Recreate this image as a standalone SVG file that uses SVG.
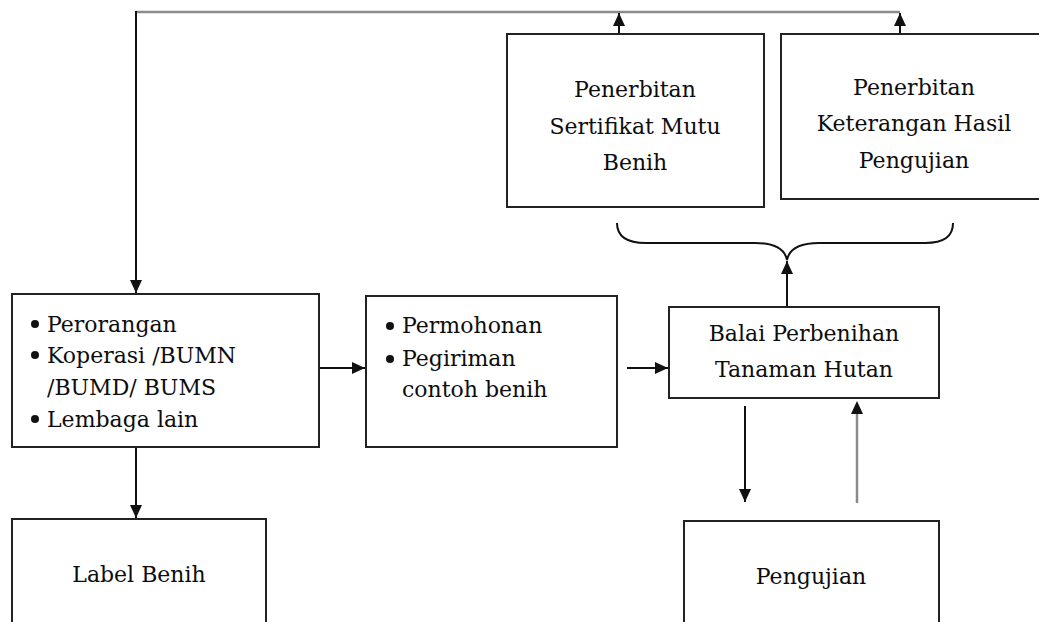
<svg xmlns="http://www.w3.org/2000/svg" width="1039" height="622" viewBox="0 0 1039 622">
  <style>
    .box { fill: #fff; stroke: #222; stroke-width: 2; }
    .lbl { font-family: "DejaVu Serif", "Liberation Serif", serif; font-size: 22px; fill: #0d0d0d; }
    .mid { text-anchor: middle; }
    .wire { fill: none; stroke: #111; stroke-width: 2; }
    .grey { fill: none; stroke: #8a8a8a; stroke-width: 2.5; }
    .dot { fill: #111; }
  </style>
  <defs>
    <marker id="arrow" markerUnits="userSpaceOnUse" markerWidth="14" markerHeight="14" viewBox="0 0 14 14" refX="13" refY="7" orient="auto">
      <path d="M0,1 L13,7 L0,13 Z" fill="#111"/>
    </marker>
  </defs>
  <rect width="1039" height="622" fill="#fff"/>

  <g id="connectors">
    <!-- feedback line over the top -->
    <path class="grey" d="M136,12 L900,12"/>
    <path class="wire" d="M136,11 L136,293" marker-end="url(#arrow)"/>
    <path class="wire" d="M619,34 L619,13" marker-end="url(#arrow)"/>
    <path class="wire" d="M900,34 L900,13" marker-end="url(#arrow)"/>
    <!-- applicant flows -->
    <path class="wire" d="M136,447 L136,518" marker-end="url(#arrow)"/>
    <path class="wire" d="M319,368 L365,368" marker-end="url(#arrow)"/>
    <path class="wire" d="M627,368 L668,368" marker-end="url(#arrow)"/>
    <!-- brace joining the two certificates -->
    <path class="wire" stroke-width="1.6" d="M617,223 C617,236 626,243 646,243 L755,243 C776,243 785,250 787,260 C789,250 798,243 819,243 L925,243 C945,243 953,236 953,223"/>
    <path class="wire" d="M787,307 L787,261" marker-end="url(#arrow)"/>
    <!-- testing loop -->
    <path class="wire" d="M745,406 L745,502" marker-end="url(#arrow)"/>
    <path class="grey" stroke-width="3" d="M857,503 L857,412"/>
    <path d="M851,414 L857,401 L863,414 Z" fill="#111"/>
  </g>

  <g id="node-sertifikat">
    <rect class="box" x="507" y="34" width="257" height="173"/>
    <text class="lbl mid" x="635" y="97">Penerbitan</text>
    <text class="lbl mid" x="635" y="134">Sertifikat Mutu</text>
    <text class="lbl mid" x="635" y="170">Benih</text>
  </g>

  <g id="node-keterangan">
    <rect class="box" x="781" y="34" width="266" height="165"/>
    <text class="lbl mid" x="914" y="95">Penerbitan</text>
    <text class="lbl mid" x="914" y="131">Keterangan Hasil</text>
    <text class="lbl mid" x="914" y="168">Pengujian</text>
  </g>

  <g id="node-pemohon">
    <rect class="box" x="12" y="294" width="307" height="153"/>
    <circle class="dot" cx="35" cy="324" r="4"/>
    <text class="lbl" x="47" y="332">Perorangan</text>
    <circle class="dot" cx="35" cy="355" r="4"/>
    <text class="lbl" x="47" y="363">Koperasi /BUMN</text>
    <text class="lbl" x="47" y="395">/BUMD/ BUMS</text>
    <circle class="dot" cx="35" cy="419" r="4"/>
    <text class="lbl" x="47" y="427">Lembaga lain</text>
  </g>

  <g id="node-permohonan">
    <rect class="box" x="366" y="296" width="251" height="151"/>
    <circle class="dot" cx="390" cy="326" r="4"/>
    <text class="lbl" x="402" y="333">Permohonan</text>
    <circle class="dot" cx="390" cy="359" r="4"/>
    <text class="lbl" x="402" y="366">Pegiriman</text>
    <text class="lbl" x="402" y="397">contoh benih</text>
  </g>

  <g id="node-balai">
    <rect class="box" x="669" y="307" width="270" height="91"/>
    <text class="lbl mid" x="804" y="341">Balai Perbenihan</text>
    <text class="lbl mid" x="804" y="377">Tanaman Hutan</text>
  </g>

  <g id="node-label">
    <rect class="box" x="12" y="519" width="254" height="110"/>
    <text class="lbl mid" x="139" y="582">Label Benih</text>
  </g>

  <g id="node-pengujian">
    <rect class="box" x="684" y="521" width="255" height="110"/>
    <text class="lbl mid" x="811" y="584">Pengujian</text>
  </g>
</svg>
